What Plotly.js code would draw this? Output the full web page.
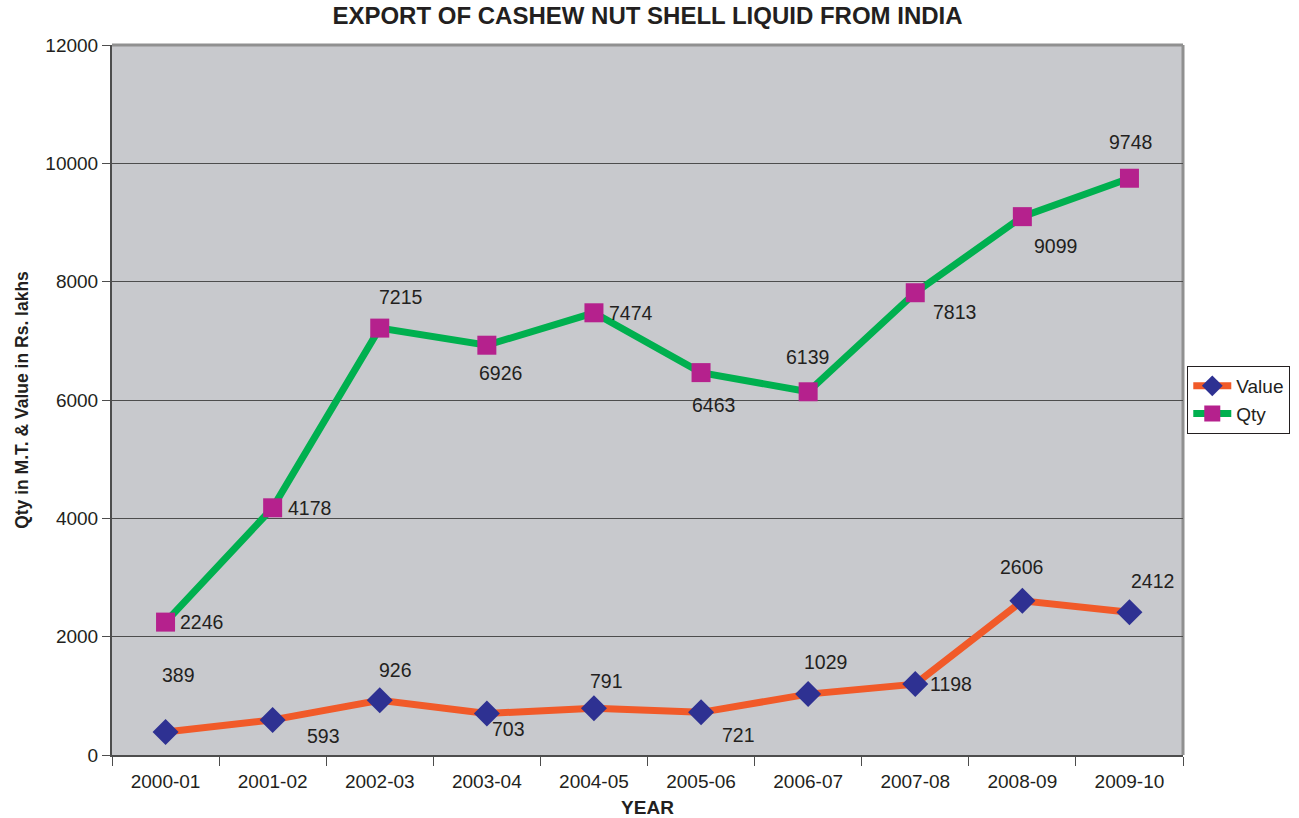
<!DOCTYPE html>
<html>
<head>
<meta charset="utf-8">
<script src="https://cdn.plot.ly/plotly-3.0.1.min.js"></script>
<style>html,body{margin:0;padding:0;background:#fff;}#chart{width:1299px;height:818px;}</style>
</head>
<body>
<div id="chart"></div>
<script>
const years = ["2000-01","2001-02","2002-03","2003-04","2004-05","2005-06","2006-07","2007-08","2008-09","2009-10"];
const valueSeries = [389, 593, 926, 703, 791, 721, 1029, 1198, 2606, 2412];
const qtySeries = [2246, 4178, 7215, 6926, 7474, 6463, 6139, 7813, 9099, 9748];

// label placement offsets (px): [xshift, yshift]
const qtyLabelPos = [[36,0],[37,0],[21,31],[14,-28],[37,0],[12,-32],[-1,35],[39,-19],[33,-29],[1,36]];
const valueLabelPos = [[13,57],[51,-16],[16,30],[22,-16],[13,27],[37,-23],[17,32],[36,0],[-1,34],[23,31]];

const FONT = "Liberation Sans, Arial, sans-serif";

const traces = [
  {
    x: years, y: valueSeries, name: "Value", type: "scatter", mode: "lines+markers",
    line: {color: "#f15a29", width: 7},
    marker: {symbol: "diamond", size: 20, color: "#2e3192"}
  },
  {
    x: years, y: qtySeries, name: "Qty", type: "scatter", mode: "lines+markers",
    line: {color: "#00b04f", width: 7},
    marker: {symbol: "square", size: 19, color: "#b5218d"}
  }
];

const annotations = [];
qtySeries.forEach((v, i) => annotations.push({
  x: years[i], y: v, xref: "x", yref: "y", text: String(v), showarrow: false,
  xshift: qtyLabelPos[i][0], yshift: qtyLabelPos[i][1],
  font: {family: FONT, size: 19.5, color: "#231f20"}
}));
valueSeries.forEach((v, i) => annotations.push({
  x: years[i], y: v, xref: "x", yref: "y", text: String(v), showarrow: false,
  xshift: valueLabelPos[i][0], yshift: valueLabelPos[i][1],
  font: {family: FONT, size: 19.5, color: "#231f20"}
}));

const layout = {
  width: 1299, height: 818,
  margin: {l: 112, r: 116, t: 45, b: 63, autoexpand: false},
  paper_bgcolor: "#ffffff",
  plot_bgcolor: "#c8c9cd",
  font: {family: FONT, size: 19, color: "#231f20"},
  title: {
    text: "<b>EXPORT OF CASHEW NUT SHELL LIQUID FROM INDIA</b>",
    x: 0.5, xref: "paper", y: 0.981, yanchor: "middle",
    font: {family: FONT, size: 24, color: "#231f20"}
  },
  xaxis: {
    type: "category", range: [-0.5, 9.5],
    showgrid: false, zeroline: false,
    showline: true, linecolor: "#4d4d4d", linewidth: 2,
    ticks: "outside", ticklen: 9, tickcolor: "#4d4d4d", tickson: "boundaries",
    ticklabelstandoff: 8,
    tickfont: {size: 19},
    title: {text: "<b>YEAR</b>", font: {size: 19}, standoff: 10}
  },
  yaxis: {
    range: [0, 12000], dtick: 2000, tickformat: "d",
    showgrid: true, gridcolor: "#4d4d4d", gridwidth: 1,
    zeroline: false,
    showline: true, linecolor: "#4d4d4d", linewidth: 2,
    ticks: "outside", ticklen: 8, tickcolor: "#4d4d4d",
    tickfont: {size: 19},
    title: {text: "<b>Qty in M.T. & Value in Rs. lakhs</b>", font: {size: 17.5}, standoff: 12}
  },
  showlegend: true,
  legend: {
    x: 1.004, xanchor: "left", y: 0.5, yanchor: "middle",
    bgcolor: "#ffffff", bordercolor: "#231f20", borderwidth: 1,
    font: {size: 19}, tracegroupgap: 0, itemwidth: 38
  },
  shapes: [
    {type: "line", xref: "paper", yref: "paper", x0: 0, x1: 1, y0: 1, y1: 1, line: {color: "#909090", width: 3}, layer: "below"},
    {type: "line", xref: "paper", yref: "paper", x0: 1, x1: 1, y0: 0, y1: 1, line: {color: "#909090", width: 3}, layer: "below"}
  ],
  annotations: annotations
};

Plotly.newPlot("chart", traces, layout, {displayModeBar: false, staticPlot: true});
</script>
</body>
</html>
